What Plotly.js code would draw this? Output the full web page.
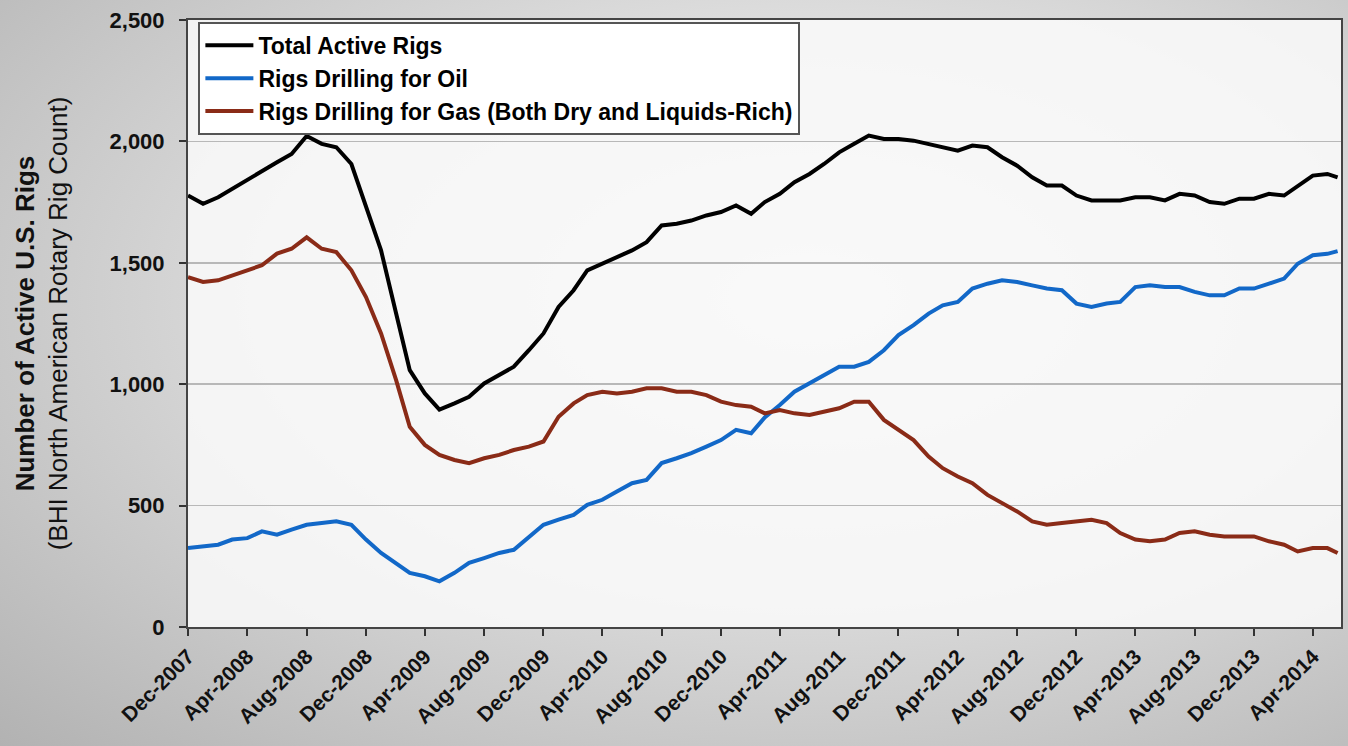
<!DOCTYPE html>
<html>
<head>
<meta charset="utf-8">
<script src="https://cdn.plot.ly/plotly-3.0.1.min.js"></script>
<style>
  html, body { margin: 0; padding: 0; }
  body {
    width: 1348px; height: 746px; overflow: hidden;
    background: radial-gradient(ellipse at 60% 40%, #f0f0f0 0%, #dcdcdc 45%, #b2b2b2 100%);
  }
  #chart { width: 1348px; height: 746px; }
</style>
</head>
<body>
<div id="chart"></div>
<script>
// Fechas (mensual, dic-2007 a may-2014)
var fechas = ['2007-12','2008-01','2008-02','2008-03','2008-04','2008-05','2008-06','2008-07','2008-08','2008-09','2008-10','2008-11',
  '2008-12','2009-01','2009-02','2009-03','2009-04','2009-05','2009-06','2009-07','2009-08','2009-09','2009-10','2009-11',
  '2009-12','2010-01','2010-02','2010-03','2010-04','2010-05','2010-06','2010-07','2010-08','2010-09','2010-10','2010-11',
  '2010-12','2011-01','2011-02','2011-03','2011-04','2011-05','2011-06','2011-07','2011-08','2011-09','2011-10','2011-11',
  '2011-12','2012-01','2012-02','2012-03','2012-04','2012-05','2012-06','2012-07','2012-08','2012-09','2012-10','2012-11',
  '2012-12','2013-01','2013-02','2013-03','2013-04','2013-05','2013-06','2013-07','2013-08','2013-09','2013-10','2013-11',
  '2013-12','2014-01','2014-02','2014-03','2014-04','2014-05','2014-05-22'];

// Total de equipos activos
var totalRigs = [1777,1743,1770,1805,1839,1880,1914,1948,2022,1990,1976,1907,1729,1551,1291,1058,962,895,921,948,
  1003,1038,1072,1140,1209,1318,1387,1469,1496,1524,1551,1585,1654,1661,1674,1695,1709,1736,1702,1750,
  1784,1832,1866,1907,1955,1990,2024,2010,2010,2003,1990,1976,1962,1983,1976,1935,1900,1852,1818,1818,
  1777,1757,1757,1757,1770,1770,1757,1784,1777,1750,1743,1764,1764,1784,1777,1818,1859,1866,1852];

// Equipos perforando petroleo
var oilRigs = [325,332,339,360,366,394,380,401,421,428,435,421,360,305,264,223,209,188,223,264,
  284,305,318,373,421,442,462,503,524,558,592,606,675,695,716,743,770,812,798,863,
  914,969,1003,1038,1072,1072,1092,1140,1202,1243,1291,1325,1339,1394,1414,1428,1421,1407,1394,1387,
  1332,1318,1332,1339,1400,1407,1400,1400,1380,1366,1366,1394,1394,1414,1435,1496,1531,1537,1548];

// Equipos perforando gas
var gasRigs = [1441,1421,1428,1448,1469,1490,1538,1558,1605,1558,1544,1469,1359,1209,1017,825,750,709,688,675,
  695,709,729,743,764,866,921,955,969,962,969,983,983,969,969,955,928,914,907,880,
  894,880,873,887,901,928,928,853,812,770,702,654,620,592,544,510,476,435,421,428,
  435,442,428,387,360,353,360,387,394,380,373,373,373,353,339,311,325,325,305];

var nombres = ['Total Active Rigs', 'Rigs Drilling for Oil', 'Rigs Drilling for Gas (Both Dry and Liquids-Rich)'];
var colores = ['#000000', '#1268c8', '#8a2b17'];
var series = [totalRigs, oilRigs, gasRigs];

var data = [];
for (let i = 0; i < series.length; i++) {
  data.push({
    x: fechas,
    y: series[i],
    type: 'scatter',
    mode: 'lines',
    name: nombres[i],
    line: { color: colores[i], width: 4 }
  });
}

var fuente = 'Arial, "Liberation Sans", sans-serif';

var layout = {
  width: 1348,
  height: 746,
  margin: { l: 188, r: 7, t: 20, b: 119 },
  paper_bgcolor: 'rgba(0,0,0,0)',
  plot_bgcolor: 'rgba(250,250,250,0.85)',
  font: { family: fuente, color: '#111' },
  showlegend: true,
  legend: {
    x: 0.009, y: 0.997, xanchor: 'left', yanchor: 'top',
    bgcolor: '#ffffff',
    bordercolor: '#555555',
    borderwidth: 2,
    itemwidth: 48,
    font: { family: fuente, size: 23, color: '#000', weight: 'bold' },
    tracegroupgap: 0
  },
  xaxis: {
    type: 'date',
    range: ['2007-12-01', '2014-05-29'],
    tick0: '2007-12-01',
    dtick: 'M4',
    tickformat: '%b-%Y',
    tickangle: -45,
    ticks: 'outside',
    ticklen: 7,
    tickwidth: 2,
    tickcolor: '#333',
    showgrid: false,
    showline: true,
    linecolor: '#444',
    linewidth: 2,
    mirror: true,
    zeroline: false,
    tickfont: { family: fuente, size: 21, color: '#111', weight: 'bold' }
  },
  yaxis: {
    range: [0, 2500],
    dtick: 500,
    tickformat: ',',
    ticks: 'outside',
    ticklen: 7,
    tickwidth: 2,
    tickcolor: '#333',
    ticklabelstandoff: 10,
    showgrid: true,
    gridcolor: '#b8b8b8',
    gridwidth: 1.5,
    showline: true,
    linecolor: '#444',
    linewidth: 2,
    mirror: true,
    zeroline: false,
    tickfont: { family: fuente, size: 22, color: '#111', weight: 'bold' },
    title: {
      text: '<b>Number of Active U.S. Rigs</b><br>(BHI North American Rotary Rig Count)',
      font: { family: fuente, size: 26, color: '#111' },
      standoff: 34
    }
  }
};

Plotly.newPlot('chart', data, layout, { staticPlot: true });
</script>
</body>
</html>
